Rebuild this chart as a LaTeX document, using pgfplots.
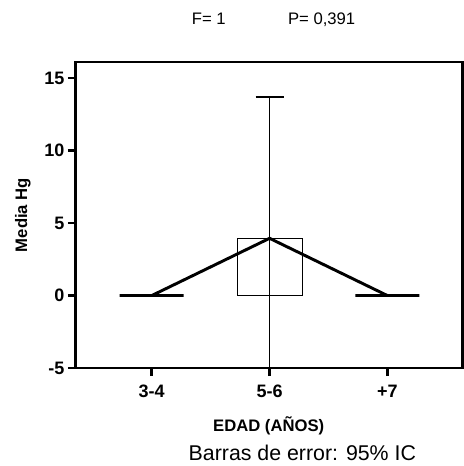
\documentclass[border=0pt]{standalone}
\usepackage{pgfplots}
\pgfplotsset{compat=1.18}
\usepackage{fontspec}
\setmainfont{Liberation Sans}

\begin{document}
\begin{tikzpicture}
\begin{axis}[
    scale only axis,
    width=290pt, height=229.5pt,
    xmin=-0.644, xmax=2.636,
    ymin=-5, ymax=16.1,
    xtick={0,1,2},
    xticklabels={3-4,5-6,+7},
    ytick={-5,0,5,10,15},
    tick align=outside,
    xtick pos=bottom, ytick pos=left,
    major tick length=6pt,
    every tick/.style={black, line width=1.8pt},
    axis line style={line width=2pt},
    tick label style={font=\fontsize{13.5}{15}\selectfont\bfseries},
    xticklabel style={yshift=-3pt},
    yticklabel style={xshift=1pt},
    /pgf/number format/assume math mode=true,
    clip mode=individual,
]

% caja de la media
\addplot[ybar, bar width=48.75pt, bar shift=0pt, draw=black, fill=none, line width=0.8pt]
    coordinates {(1,3.95)};
% medias nulas
\addplot[ybar, bar width=48pt, bar shift=0pt, draw=black, fill=none, line width=1.8pt]
    coordinates {(0,0) (2,0)};

% intervalo de confianza 95%
\addplot[draw=none, mark=none,
    error bars/.cd, y dir=both, y explicit,
    error bar style={line width=1pt, black},
    error mark options={rotate=90, mark size=10.5pt, line width=1.2pt, black}]
    coordinates {(1,3.95) +- (0,9.75)};

% linea de medias
\addplot[black, line width=2.2pt, mark=none]
    coordinates {(0,0) (1,3.95) (2,0)};

\node[font=\fontsize{12.5}{14}\selectfont] at (rel axis cs:0.344,1.14) {F= 1};
\node[font=\fontsize{12.5}{14}\selectfont] at (rel axis cs:0.636,1.14) {P= 0,391};
\node[rotate=90, font=\fontsize{12.5}{14}\selectfont\bfseries] at (rel axis cs:-0.137,0.5) {Media Hg};
\node[font=\fontsize{12.5}{14}\selectfont\bfseries] at (rel axis cs:0.499,-0.19) {EDAD (AÑOS)};
\node[anchor=west, font=\fontsize{16}{18}\selectfont] at (rel axis cs:0.28,-0.278) {Barras de error: 95\% IC};

\path (rel axis cs:-0.196,-0.32) rectangle (rel axis cs:1,1.203);
\end{axis}
\end{tikzpicture}
\end{document}
